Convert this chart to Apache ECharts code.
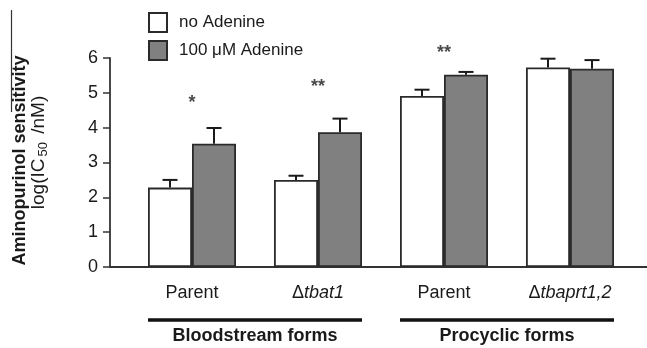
<!DOCTYPE html>
<html>
<head>
<meta charset="utf-8">
<script src="https://cdn.jsdelivr.net/npm/echarts@6/dist/echarts.min.js"></script>
<style>
html,body{margin:0;padding:0;background:#fff;}
#chart{width:647px;height:348px;}
</style>
</head>
<body>
<div id="chart"></div>
<script>
// ---- data ----
var categories = ['Parent', 'tbat1', 'Parent', 'tbaprt1,2'];
var categoryDelta = [false, true, false, true];
var seriesNames = ['no Adenine', '100 \u03bcM Adenine'];
var noAdenine = [2.28, 2.50, 4.91, 5.73];
var noAdenineErr = [2.50, 2.62, 5.09, 5.98];
var withAdenine = [3.54, 3.87, 5.52, 5.69];
var withAdenineErr = [3.99, 4.26, 5.60, 5.94];
var sigLabels = ['*', '**', '**', ''];
var sigY = [4.71, 5.17, 6.14, null];
var groupNames = ['Bloodstream forms', 'Procyclic forms'];
var groupStart = [0, 2];
var groupEnd = [1, 3];
var yTicks = [0, 1, 2, 3, 4, 5, 6];

// ---- chart ----
var FONT = 'Liberation Sans, Arial, sans-serif';
var INK = '#1a1a1a';
var BAR_W = 44;
var chart = echarts.init(document.getElementById('chart'), null, {renderer: 'canvas'});

function errData(means, tops) {
  return means.map(function (m, i) { return [i, m, tops[i]]; });
}
function errRender(side) {
  return function (params, api) {
    var i = api.value(0);
    var c = api.coord([i, api.value(1)]);
    var t = api.coord([i, api.value(2)]);
    var x = c[0] + side * BAR_W / 2;
    var cap = 7.5;
    return {
      type: 'group',
      children: [
        {type: 'line', shape: {x1: x, y1: c[1], x2: x, y2: t[1]}, style: {stroke: INK, lineWidth: 2}},
        {type: 'line', shape: {x1: x - cap, y1: t[1], x2: x + cap, y2: t[1]}, style: {stroke: INK, lineWidth: 2}}
      ]
    };
  };
}

var groupData = groupNames.map(function (g, k) { return [groupStart[k], groupEnd[k], k]; });

var option = {
  backgroundColor: '#fff',
  animation: false,
  textStyle: {fontFamily: FONT},
  legend: {
    orient: 'vertical', left: 148, top: 12, padding: 0,
    itemWidth: 18, itemHeight: 19, itemGap: 7,
    icon: 'rect',
    data: seriesNames,
    textStyle: {fontFamily: FONT, fontSize: 17, color: INK, padding: [0, 0, 0, 7]}
  },
  grid: [
    {left: 110, right: 0, top: 58, bottom: 81, outerBoundsMode: 'none', containLabel: false},
    {left: 129, right: 14, top: 58, bottom: 81, outerBoundsMode: 'none', containLabel: false}
  ],
  xAxis: [
    {gridIndex: 0, type: 'value', min: 0, max: 1,
      axisLine: {show: true, lineStyle: {color: '#333', width: 1.8}},
      axisTick: {show: false}, axisLabel: {show: false}, splitLine: {show: false}},
    {gridIndex: 1, type: 'category', data: categories,
      axisLine: {show: false}, axisTick: {show: false}, splitLine: {show: false},
      axisLabel: {
        margin: 17,
        formatter: function (v, i) {
          return categoryDelta[i] ? '{d|\u0394}{i|' + v + '}' : '{n|' + v + '}';
        },
        rich: {
          n: {fontFamily: FONT, fontSize: 18, color: INK},
          d: {fontFamily: FONT, fontSize: 18, color: INK},
          i: {fontFamily: FONT, fontSize: 18, color: INK, fontStyle: 'italic'}
        }
      }}
  ],
  yAxis: [
    {gridIndex: 0, type: 'value', position: 'left', min: yTicks[0], max: yTicks[yTicks.length - 1], interval: 1,
      axisLine: {show: true, lineStyle: {color: '#333', width: 1.8}},
      axisTick: {show: true, inside: false, length: 7, lineStyle: {color: '#333', width: 1.5}},
      axisLabel: {fontFamily: FONT, fontSize: 18, color: INK, margin: 12},
      splitLine: {show: false},
      name: 'Aminopurinol sensitivity', nameLocation: 'middle', nameRotate: 90, nameGap: 81,
      nameTextStyle: {fontFamily: FONT, fontSize: 18, fontWeight: 'bold', color: INK, padding: [0, 0, 0, 4]}},
    {gridIndex: 0, type: 'value', position: 'left', offset: 0, min: yTicks[0], max: yTicks[yTicks.length - 1], interval: 1,
      axisLine: {show: false}, axisTick: {show: false}, axisLabel: {show: false}, splitLine: {show: false},
      name: '{b|log(IC}{s|50}{b| /nM)}', nameLocation: 'middle', nameRotate: 90, nameGap: 60,
      nameTextStyle: {padding: [0, 0, 0, 20],
        rich: {
          b: {fontFamily: FONT, fontSize: 19, color: INK},
          s: {fontFamily: FONT, fontSize: 13, color: INK, padding: [9, 3, 0, 2]}
        }}},
    {gridIndex: 1, type: 'value', min: yTicks[0], max: yTicks[yTicks.length - 1], interval: 1, show: false}
  ],
  series: [
    {name: seriesNames[0], type: 'bar', xAxisIndex: 1, yAxisIndex: 2,
      data: noAdenine, barWidth: BAR_W, barGap: '0%',
      itemStyle: {color: '#ffffff', borderColor: '#2a2a2a', borderWidth: 1.8}},
    {name: seriesNames[1], type: 'bar', xAxisIndex: 1, yAxisIndex: 2,
      data: withAdenine, barWidth: BAR_W, barGap: '0%',
      itemStyle: {color: '#808080', borderColor: '#2a2a2a', borderWidth: 1.8}},
    {type: 'custom', xAxisIndex: 1, yAxisIndex: 2, z: 1,
      data: errData(noAdenine, noAdenineErr), renderItem: errRender(-1)},
    {type: 'custom', xAxisIndex: 1, yAxisIndex: 2, z: 1,
      data: errData(withAdenine, withAdenineErr), renderItem: errRender(1)},
    {type: 'scatter', xAxisIndex: 1, yAxisIndex: 2, symbolSize: 0, clip: false,
      data: sigY.map(function (y, i) { return [i, y]; }),
      label: {show: true, position: 'inside',
        formatter: function (p) { return sigLabels[p.dataIndex]; },
        fontFamily: FONT, fontSize: 18, fontWeight: 'bold', color: INK}},
    {type: 'custom', xAxisIndex: 1, yAxisIndex: 2, clip: false,
      data: groupData,
      renderItem: function (params, api) {
        var a = api.coord([api.value(0), 0]);
        var b = api.coord([api.value(1), 0]);
        var k = api.value(2);
        var x1 = a[0] - BAR_W, x2 = b[0] + BAR_W, y = a[1] + 53;
        return {
          type: 'group',
          children: [
            {type: 'line', shape: {x1: x1, y1: y, x2: x2, y2: y}, style: {stroke: '#111', lineWidth: 3.5}},
            {type: 'text', x: (x1 + x2) / 2, y: y + 16,
              style: {text: groupNames[k], fontFamily: FONT, fontSize: 18, fontWeight: 'bold',
                fill: INK, align: 'center', verticalAlign: 'middle'}}
          ]
        };
      }}
  ],
  graphic: [
    {type: 'line', shape: {x1: 11.5, y1: 10, x2: 11.5, y2: 112}, style: {stroke: '#333', lineWidth: 1.2}}
  ]
};
chart.setOption(option);
</script>
</body>
</html>
